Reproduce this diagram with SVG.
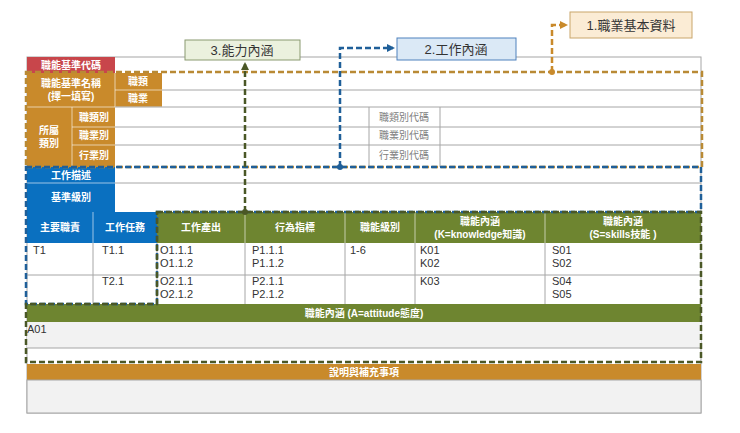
<svg xmlns="http://www.w3.org/2000/svg" width="740" height="433" viewBox="0 0 740 433">
<defs>
<style>
.g{fill:none;stroke:#a6a6a6;stroke-width:1}
.lt{font-family:"Liberation Sans","Noto Sans CJK TC",sans-serif;font-size:10px;fill:#fff;text-anchor:middle;font-weight:bold}
.gt{font-family:"Liberation Sans","Noto Sans CJK TC",sans-serif;font-size:10px;fill:#808080;text-anchor:middle}
.dt{font-family:"Liberation Sans","Noto Sans CJK TC",sans-serif;font-size:11px;fill:#333}
.bt{font-family:"Liberation Sans","Noto Sans CJK TC",sans-serif;font-size:13px;fill:#333;text-anchor:middle}
.or{fill:#c98a2b}.bl{fill:#0a70c0}.gr{fill:#6e8530}
</style>
<marker id="aO" markerWidth="8" markerHeight="8" refX="6" refY="4" orient="auto" markerUnits="userSpaceOnUse"><path d="M0,0L8,4L0,8Z" fill="#c98a2b"/></marker>
<marker id="aB" markerWidth="8" markerHeight="8" refX="6" refY="4" orient="auto" markerUnits="userSpaceOnUse"><path d="M0,0L8,4L0,8Z" fill="#1f5f99"/></marker>
<marker id="aG" markerWidth="8" markerHeight="8" refX="6" refY="4" orient="auto" markerUnits="userSpaceOnUse"><path d="M0,0L8,4L0,8Z" fill="#4a5726"/></marker>
</defs>
<rect width="740" height="433" fill="#fff"/>
<g id="table">
<rect x="27" y="57" width="674" height="356" fill="#fff" stroke="#a6a6a6"/>
<rect x="27" y="57" width="88" height="16" fill="#c8464b"/>
<text class="lt" x="71" y="69">職能基準代碼</text>
<rect class="or" x="27" y="73" width="88" height="34"/>
<text class="lt" x="71" y="87">職能基準名稱</text><text class="lt" x="71" y="100">(擇一填寫)</text>
<rect class="or" x="115" y="73" width="47" height="34"/>
<line x1="115" y1="90" x2="162" y2="90" stroke="#fff" stroke-width="0.6"/>
<line x1="115" y1="73" x2="115" y2="107" stroke="#fff" stroke-width="0.6"/>
<text class="lt" x="138" y="85">職類</text><text class="lt" x="138" y="102">職業</text>
<rect class="or" x="27" y="107" width="88" height="60"/>
<line x1="72" y1="107" x2="72" y2="167" stroke="#fff" stroke-width="0.6"/>
<line x1="72" y1="127" x2="115" y2="127" stroke="#fff" stroke-width="0.6"/>
<line x1="72" y1="145" x2="115" y2="145" stroke="#fff" stroke-width="0.6"/>
<line x1="27" y1="107" x2="162" y2="107" stroke="#fff" stroke-width="0.6"/>
<text class="lt" x="49" y="134">所屬</text><text class="lt" x="49" y="147">類別</text>
<text class="lt" x="94" y="121">職類別</text><text class="lt" x="94" y="139">職業別</text><text class="lt" x="94" y="159">行業別</text>
<path class="g" d="M162 90H701M115 107H701M115 127H701M115 145H701M369 107V167M440 107V167"/>
<text class="gt" x="404" y="121">職類別代碼</text><text class="gt" x="404" y="139">職業別代碼</text><text class="gt" x="404" y="159">行業別代碼</text>
<rect class="bl" x="27" y="167" width="88" height="45"/>
<line x1="27" y1="183" x2="115" y2="183" stroke="#fff" stroke-width="0.6"/>
<text class="lt" x="71" y="179">工作描述</text><text class="lt" x="71" y="201">基準級別</text>
<path class="g" d="M115 183H701"/>
<rect class="bl" x="27" y="212" width="130" height="31"/>
<line x1="93" y1="212" x2="93" y2="243" stroke="#fff" stroke-width="0.6"/>
<text class="lt" x="60" y="231">主要職責</text><text class="lt" x="125" y="231">工作任務</text>
<rect class="gr" x="157" y="212" width="544" height="31"/>
<path d="M245 212V243M345 212V243M415 212V243M545 212V243" stroke="#fff" stroke-width="0.6"/>
<text class="lt" x="201" y="231">工作產出</text><text class="lt" x="295" y="231">行為指標</text><text class="lt" x="380" y="231">職能級別</text>
<text class="lt" x="480" y="225">職能內涵</text><text class="lt" x="480" y="238">(K=knowledge知識)</text>
<text class="lt" x="623" y="225">職能內涵</text><text class="lt" x="623" y="238">(S=skills技能 )</text>
<path class="g" d="M27 275H701M93 243V304M157 243V304M245 243V304M345 243V304M415 243V304M545 243V304"/>
<text class="dt" x="33" y="254">T1</text><text class="dt" x="102" y="254">T1.1</text>
<text class="dt" x="160" y="254">O1.1.1</text><text class="dt" x="160" y="267">O1.1.2</text>
<text class="dt" x="252" y="254">P1.1.1</text><text class="dt" x="252" y="267">P1.1.2</text>
<text class="dt" x="350" y="254">1-6</text>
<text class="dt" x="420" y="254">K01</text><text class="dt" x="420" y="267">K02</text>
<text class="dt" x="552" y="254">S01</text><text class="dt" x="552" y="267">S02</text>
<text class="dt" x="102" y="285">T2.1</text>
<text class="dt" x="160" y="285">O2.1.1</text><text class="dt" x="160" y="298">O2.1.2</text>
<text class="dt" x="252" y="285">P2.1.1</text><text class="dt" x="252" y="298">P2.1.2</text>
<text class="dt" x="420" y="285">K03</text>
<text class="dt" x="552" y="285">S04</text><text class="dt" x="552" y="298">S05</text>
<rect class="gr" x="27" y="304" width="674" height="18"/>
<text class="lt" x="364" y="317">職能內涵 (A=attitude態度)</text>
<rect x="27" y="322" width="674" height="26" fill="#f2f2f2"/>
<path class="g" d="M27 348H701"/>
<text class="dt" x="27" y="333">A01</text>
<rect class="or" x="27" y="364" width="674" height="16"/>
<text class="lt" x="364" y="376">說明與補充事項</text>
<rect x="27" y="380" width="674" height="33" fill="#f2f2f2" stroke="#a6a6a6"/>
</g>
<g id="regions" fill="none" stroke-width="2.5" stroke-dasharray="6,3">
<rect x="26" y="72" width="676" height="95" stroke="#b98a35"/>
<path d="M26 167H701V212H157V304H26Z" stroke="#1f5f99"/>
<path d="M157 212H701V362H26V304H157Z" stroke="#4a5726"/>
</g>
<g id="box1"><rect x="570" y="12" width="122" height="26" fill="#fbecd5" stroke="#c9a66b"/><text class="bt" x="631" y="30">1.職業基本資料</text></g>
<g id="box2"><rect x="397" y="38" width="119" height="22" fill="#dbe9f6" stroke="#4f81bd"/><text class="bt" x="456" y="54">2.工作內涵</text></g>
<g id="box3"><rect x="185" y="40" width="115" height="20" fill="#ebf1de" stroke="#8a9a70"/><text class="bt" x="242" y="55">3.能力內涵</text></g>
<g id="connectors" fill="none" stroke-width="2.5" stroke-dasharray="6,3">
<path d="M552 72V25H566" stroke="#c98a2b" marker-end="url(#aO)"/>
<path d="M340 167V48H393" stroke="#1f5f99" marker-end="url(#aB)"/>
<path d="M245 212V64" stroke="#4a5726" marker-end="url(#aG)"/>
<circle cx="552" cy="72" r="3" fill="#c98a2b" stroke="none"/>
<circle cx="340" cy="167" r="3" fill="#1f5f99" stroke="none"/>
<circle cx="245" cy="212" r="3" fill="#4a5726" stroke="none"/>
</g>
</svg>
